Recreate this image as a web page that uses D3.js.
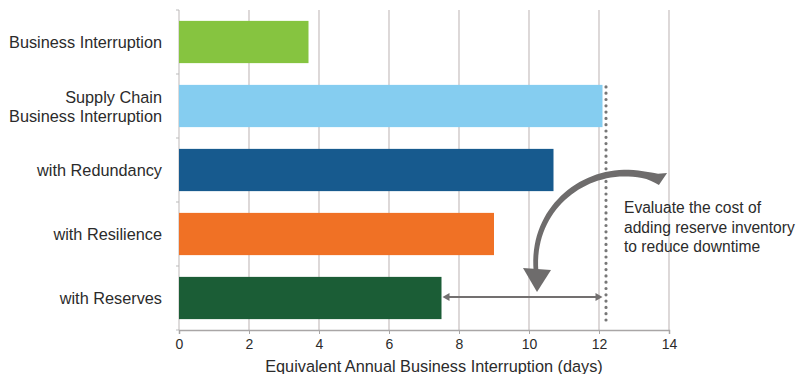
<!DOCTYPE html>
<html><head><meta charset="utf-8">
<script src="https://cdn.jsdelivr.net/npm/d3@7"></script>
<style>body{margin:0;background:#fff}text{font-family:"Liberation Sans",Arial,sans-serif;fill:#2b2b2b}</style>
</head><body><svg id="c" width="812" height="374"></svg>
<script>
const categories = [["Business Interruption"],["Supply Chain","Business Interruption"],["with Redundancy"],["with Resilience"],["with Reserves"]];
const values = [3.7, 12.1, 10.7, 9.0, 7.5];
const colors = ["#86c440","#85cdf0","#175a8e","#f07125","#1b5d36"];
const xTicks = [0,2,4,6,8,10,12,14];
const targetDays = 12.2;
const annotation = ["Evaluate the cost of","adding reserve inventory","to reduce downtime"];
const axisTitle = "Equivalent Annual Business Interruption (days)";

const svg = d3.select("#c");
const x = d3.scaleLinear().domain([0,14]).range([179,669]);
const y = d3.scaleBand().domain(d3.range(categories.length)).range([10,330]).paddingInner(0.34).paddingOuter(0.17);

// gridlines
svg.append("g").selectAll("line").data(xTicks.slice(1)).join("line")
  .attr("x1",d=>x(d)).attr("x2",d=>x(d)).attr("y1",10).attr("y2",330)
  .attr("stroke","#cbc4c4").attr("stroke-width",1.3);
// y axis line
svg.append("line").attr("x1",x(0)).attr("x2",x(0)).attr("y1",10).attr("y2",330).attr("stroke","#c8c4c4").attr("stroke-width",1.2);
// y tick marks between bands
svg.append("g").selectAll("line").data(d3.range(categories.length+1)).join("line")
  .attr("x1",x(0)-3).attr("x2",x(0)).attr("y1",d=>10+d*y.step()).attr("y2",d=>10+d*y.step()).attr("stroke","#bbb");

// bars
svg.append("g").selectAll("rect").data(values).join("rect")
  .attr("x",x(0)).attr("y",(d,i)=>y(i)).attr("width",d=>x(d)-x(0)).attr("height",y.bandwidth())
  .attr("fill",(d,i)=>colors[i]);

// x axis
const xa = svg.append("g").attr("transform","translate(0,330)")
  .call(d3.axisBottom(x).tickValues(xTicks).tickSize(4).tickPadding(5));
xa.select(".domain").attr("stroke","#a9a6a6").attr("stroke-width",1.5);
xa.selectAll(".tick line").attr("stroke","#a9a6a6");
xa.selectAll(".tick text").attr("font-size",14).attr("fill","#2b2b2b").attr("font-family","Liberation Sans, Arial, sans-serif");
svg.append("text").attr("x",434).attr("y",372).attr("text-anchor","middle").attr("font-size",16.3).text(axisTitle);

// category labels
const lab = svg.append("g").selectAll("text").data(categories).join("text")
  .attr("x",162).attr("text-anchor","end").attr("font-size",16.3);
lab.each(function(lines,i){
  const t = d3.select(this);
  const c = y(i)+y.bandwidth()/2;
  const lh = 19;
  lines.forEach((s,k)=>{
    t.append("tspan").attr("x",162).attr("y",c + (k-(lines.length-1)/2)*lh + 6).text(s);
  });
});

// dotted target line
svg.append("line").attr("x1",x(targetDays)).attr("x2",x(targetDays))
  .attr("y1",y(1)+2).attr("y2",323)
  .attr("stroke","#777").attr("stroke-width",3.2).attr("stroke-linecap","round").attr("stroke-dasharray","0 6.3");

// double headed arrow
const ay = y(4)+y.bandwidth()/2-1;
const ax1 = x(values[4])+1, ax2 = x(12.1);
const gc = "#737070";
svg.append("line").attr("x1",ax1+5).attr("x2",ax2-5).attr("y1",ay).attr("y2",ay).attr("stroke",gc).attr("stroke-width",2);
svg.append("path").attr("d",`M${ax1},${ay} l7,-4 l0,8 z`).attr("fill",gc);
svg.append("path").attr("d",`M${ax2},${ay} l-7,-4 l0,8 z`).attr("fill",gc);

// curved arrow (tapered)
const P = [[661,180],[600,155],[530,200],[536,271]];
function bez(t){const u=1-t;return [u*u*u*P[0][0]+3*u*u*t*P[1][0]+3*u*t*t*P[2][0]+t*t*t*P[3][0],
  u*u*u*P[0][1]+3*u*u*t*P[1][1]+3*u*t*t*P[2][1]+t*t*t*P[3][1]];}
const left=[],right=[];
const N=40;
for(let i=0;i<=N;i++){
  const t=i/N, p=bez(t), q=bez(Math.min(1,t+0.001)), r=bez(Math.max(0,t-0.001));
  let dx=q[0]-r[0], dy=q[1]-r[1]; const L=Math.hypot(dx,dy); dx/=L; dy/=L;
  const w = (t<0.08 ? 11 - t*50 : 7 - (t-0.08)*2.5)/2;
  left.push([p[0]-dy*w,p[1]+dx*w]); right.push([p[0]+dy*w,p[1]-dx*w]);
}
left[0]=[left[0][0]+4,left[0][1]-2];
svg.append("path").attr("d","M"+left.map(p=>p.join(",")).join("L")+"L"+right.reverse().map(p=>p.join(",")).join("L")+"Z").attr("fill","#6e6c6c");
svg.append("path").attr("d","M523,268 L551,270 L537,292 Z").attr("fill","#6e6c6c");

// annotation text
svg.append("text").attr("font-size",15.6).selectAll("tspan").data(annotation).join("tspan")
  .attr("x",624).attr("y",(d,i)=>213+i*19.5).text(d=>d);
</script></body></html>
